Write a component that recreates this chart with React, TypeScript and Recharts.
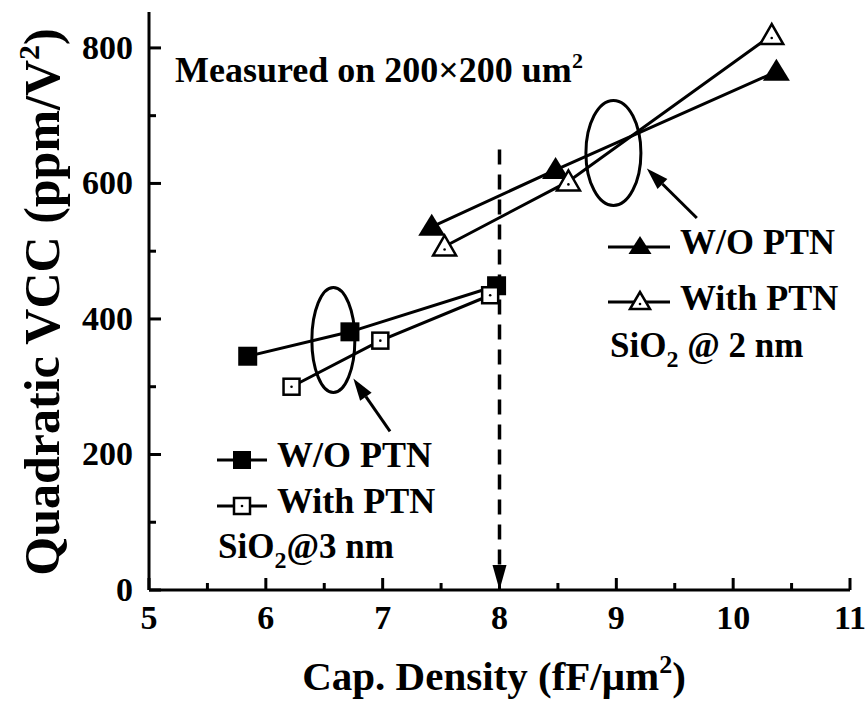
import { LineChart, Line, XAxis, YAxis, ReferenceLine, ReferenceDot } from "recharts";

// thin oxide (2 nm) - triangles, thick oxide (3 nm) - squares
const oxide3WoX = [5.845, 6.72, 7.975];
const oxide3WoY = [345, 381, 449];
const oxide3WithX = [6.22, 6.98, 7.92];
const oxide3WithY = [300, 368, 435];
const oxide2WoX = [7.42, 8.48, 10.37];
const oxide2WoY = [536, 620, 765];
const oxide2WithX = [7.53, 8.59, 10.33];
const oxide2WithY = [507, 603, 819];

const xTicks = [5, 5.5, 6, 6.5, 7, 7.5, 8, 8.5, 9, 9.5, 10, 10.5, 11];
const yTicks = [0, 100, 200, 300, 400, 500, 600, 700, 800];

// annotation anchors in data units
const markerLine = { x: 8, top: 650 };
const bigEllipse = { x: 8.975, y: 645 };
const smallEllipse = { x: 6.578, y: 369 };
const bigArrow = [{ x: 9.689, y: 549 }, { x: 9.261, y: 622 }];
const smallArrow = [{ x: 7.063, y: 234 }, { x: 6.749, y: 312 }];

const toRows = (xs: number[], ys: number[]) => xs.map((x, i) => ({ x, y: ys[i] }));

const FONT = "'Liberation Serif', 'DejaVu Serif', serif";
const ts = (size: number) => ({ fontFamily: FONT, fontWeight: 700, fontSize: size, fill: "#000" });

const FilledSquare = (p: any) => (
  <rect key={`fs-${p.index}`} x={p.cx - 9.5} y={p.cy - 9.5} width={19} height={19} fill="#000" />
);
const OpenSquare = (p: any) => (
  <g key={`os-${p.index}`}>
    <rect x={p.cx - 8} y={p.cy - 8} width={16} height={16} fill="#fff" stroke="#000" strokeWidth={2.5} />
    <circle cx={p.cx} cy={p.cy} r={1.3} fill="#000" />
  </g>
);
const FilledTriangle = (p: any) => (
  <polygon
    key={`ft-${p.index}`}
    points={`${p.cx},${p.cy - 13} ${p.cx - 13.5},${p.cy + 9} ${p.cx + 13.5},${p.cy + 9}`}
    fill="#000"
  />
);
const OpenTriangle = (p: any) => (
  <g key={`ot-${p.index}`}>
    <polygon
      points={`${p.cx},${p.cy - 11} ${p.cx - 11.5},${p.cy + 9} ${p.cx + 11.5},${p.cy + 9}`}
      fill="#fff"
      stroke="#000"
      strokeWidth={2.5}
    />
    <circle cx={p.cx} cy={p.cy + 3} r={1.3} fill="#000" />
  </g>
);

const isMajorX = (v: number) => Number.isInteger(v);
const isMajorY = (v: number) => v % 200 === 0;

const BottomTick = ({ x, y, payload }: any) => {
  const major = isMajorX(payload.value);
  return (
    <g>
      <line x1={x} x2={x} y1={y} y2={y - (major ? 12 : 7)} stroke="#000" strokeWidth={3} />
      {major && (
        <text x={x} y={y + 39} textAnchor="middle" style={ts(34)}>
          {payload.value}
        </text>
      )}
    </g>
  );
};
const TopTick = ({ x, y, payload }: any) => (
  <line x1={x} x2={x} y1={y} y2={y + (isMajorX(payload.value) ? 12 : 7)} stroke="#000" strokeWidth={3} />
);
const LeftTick = ({ x, y, payload }: any) => {
  const major = isMajorY(payload.value);
  return (
    <g>
      <line x1={x} x2={x + (major ? 12 : 7)} y1={y} y2={y} stroke="#000" strokeWidth={3} />
      {major && (
        <text x={x - 16} y={y + 11} textAnchor="end" style={ts(34)}>
          {payload.value}
        </text>
      )}
    </g>
  );
};
const RightTick = ({ x, y, payload }: any) => (
  <line x1={x} x2={x - (isMajorY(payload.value) ? 12 : 7)} y1={y} y2={y} stroke="#000" strokeWidth={3} />
);

const arrowShape = (headLen: number, headW: number) => (p: any) => {
  const { x1, y1, x2, y2 } = p;
  const dx = x2 - x1;
  const dy = y2 - y1;
  const len = Math.sqrt(dx * dx + dy * dy) || 1;
  const ux = dx / len;
  const uy = dy / len;
  const bx = x2 - ux * headLen;
  const by = y2 - uy * headLen;
  return (
    <g>
      <line x1={x1} y1={y1} x2={bx} y2={by} stroke="#000" strokeWidth={3} />
      <polygon
        points={`${x2},${y2} ${bx - uy * headW},${by + ux * headW} ${bx + uy * headW},${by - ux * headW}`}
        fill="#000"
      />
    </g>
  );
};

const dashedArrow = (p: any) => {
  const { x1, y1, y2 } = p;
  const top = Math.min(y1, y2);
  const bottom = Math.max(y1, y2);
  return (
    <g>
      <line x1={x1} x2={x1} y1={top} y2={bottom - 22} stroke="#000" strokeWidth={3.5} strokeDasharray="15 10" />
      <polygon points={`${x1},${bottom} ${x1 - 7},${bottom - 25} ${x1 + 7},${bottom - 25}`} fill="#000" />
    </g>
  );
};

const ellipseShape = (rx: number, ry: number) => (p: any) => (
  <ellipse cx={p.cx} cy={p.cy} rx={rx} ry={ry} fill="none" stroke="#000" strokeWidth={3} />
);

const App = () => {
  return (
    <div style={{ position: "absolute", left: 0, top: 0, background: "#fff" }}>
      <LineChart width={867} height={702} margin={{ top: 12, right: 17, left: 0, bottom: 0 }}>
        <XAxis
          dataKey="x"
          type="number"
          domain={[5, 11]}
          ticks={xTicks}
          interval={0}
          height={112}
          tickSize={0}
          tickMargin={0}
          tickLine={false}
          tick={<BottomTick />}
          axisLine={{ stroke: "#000", strokeWidth: 3 }}
          allowDataOverflow
        />
        <XAxis
          xAxisId="top"
          orientation="top"
          dataKey="x"
          type="number"
          domain={[5, 11]}
          ticks={xTicks}
          interval={0}
          height={0}
          tickSize={0}
          tickMargin={0}
          tickLine={false}
          tick={<TopTick />}
          axisLine={{ stroke: "#000", strokeWidth: 3 }}
        />
        <YAxis
          type="number"
          domain={[0, 853]}
          ticks={yTicks}
          interval={0}
          width={149}
          tickSize={0}
          tickMargin={0}
          tickLine={false}
          tick={<LeftTick />}
          axisLine={{ stroke: "#000", strokeWidth: 3 }}
          allowDataOverflow
        />
        <YAxis
          yAxisId="right"
          orientation="right"
          type="number"
          domain={[0, 853]}
          ticks={yTicks}
          interval={0}
          width={0}
          tickSize={0}
          tickMargin={0}
          tickLine={false}
          tick={<RightTick />}
          axisLine={{ stroke: "#000", strokeWidth: 3 }}
        />

        <ReferenceLine
          segment={[{ x: markerLine.x, y: markerLine.top }, { x: markerLine.x, y: 0 }]}
          shape={dashedArrow}
          ifOverflow="visible"
        />
        <ReferenceDot x={bigEllipse.x} y={bigEllipse.y} r={1} shape={ellipseShape(27.5, 52.5)} ifOverflow="visible" />
        <ReferenceDot x={smallEllipse.x} y={smallEllipse.y} r={1} shape={ellipseShape(21.5, 52.5)} ifOverflow="visible" />
        <ReferenceLine segment={bigArrow} shape={arrowShape(22, 7)} ifOverflow="visible" />
        <ReferenceLine segment={smallArrow} shape={arrowShape(22, 7)} ifOverflow="visible" />

        <Line data={toRows(oxide3WoX, oxide3WoY)} dataKey="y" stroke="#000" strokeWidth={3} dot={FilledSquare} activeDot={false} isAnimationActive={false} />
        <Line data={toRows(oxide3WithX, oxide3WithY)} dataKey="y" stroke="#000" strokeWidth={3} dot={OpenSquare} activeDot={false} isAnimationActive={false} />
        <Line data={toRows(oxide2WoX, oxide2WoY)} dataKey="y" stroke="#000" strokeWidth={3} dot={FilledTriangle} activeDot={false} isAnimationActive={false} />
        <Line data={toRows(oxide2WithX, oxide2WithY)} dataKey="y" stroke="#000" strokeWidth={3} dot={OpenTriangle} activeDot={false} isAnimationActive={false} />

        {/* legend, 2 nm */}
        <g>
          <line x1={608} x2={670} y1={247} y2={247} stroke="#000" strokeWidth={3} />
          <polygon points="640,236 628.5,254 651.5,254" fill="#000" />
          <text x={680} y={254} style={ts(36)}>W/O PTN</text>
          <line x1={608} x2={670} y1={302} y2={302} stroke="#000" strokeWidth={3} />
          <polygon points="640,292 630,309 650,309" fill="#fff" stroke="#000" strokeWidth={2.5} />
          <circle cx={640} cy={304} r={1.3} fill="#000" />
          <text x={680} y={310} style={ts(36)}>With PTN</text>
          <text x={610} y={357} style={ts(35)}>
            SiO<tspan dy={10} style={{ fontSize: 24 }}>2</tspan>
            <tspan dy={-10}> @ 2 nm</tspan>
          </text>
        </g>

        {/* legend, 3 nm */}
        <g>
          <line x1={217} x2={267} y1={460} y2={460} stroke="#000" strokeWidth={3} />
          <rect x={233} y={451} width={18} height={18} fill="#000" />
          <text x={277} y={467} style={ts(36)}>W/O PTN</text>
          <line x1={217} x2={267} y1={506} y2={506} stroke="#000" strokeWidth={3} />
          <rect x={234} y={498} width={16} height={16} fill="#fff" stroke="#000" strokeWidth={2.5} />
          <circle cx={242} cy={506} r={1.3} fill="#000" />
          <text x={277} y={513} style={ts(36)}>With PTN</text>
          <text x={218} y={558} style={ts(35)}>
            SiO<tspan dy={10} style={{ fontSize: 24 }}>2</tspan>
            <tspan dy={-10}>@3 nm</tspan>
          </text>
        </g>

        <text x={175} y={82} style={ts(36)}>
          Measured on 200×200 um<tspan dy={-14} style={{ fontSize: 22 }}>2</tspan>
        </text>

        {/* axis titles */}
        <text x={494} y={690} textAnchor="middle" style={ts(41)}>
          Cap. Density (fF/μm<tspan dy={-17} style={{ fontSize: 26 }}>2</tspan>
          <tspan dy={17}>)</tspan>
        </text>
        <text x={59} y={302} textAnchor="middle" transform="rotate(-90, 59, 302)" style={ts(50)}>
          Quadratic VCC (ppm/V<tspan dy={-20} style={{ fontSize: 30 }}>2</tspan>
          <tspan dy={20}>)</tspan>
        </text>
      </LineChart>
    </div>
  );
};

export default App;
